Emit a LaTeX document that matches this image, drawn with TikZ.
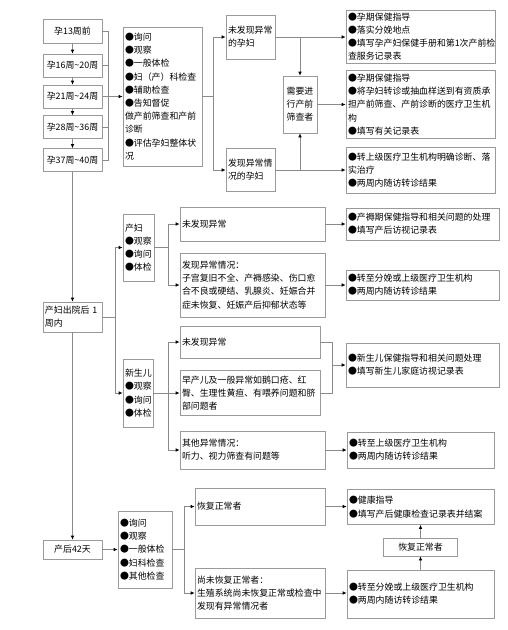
\documentclass[tikz,border=0pt]{standalone}
\usepackage{fontspec}
\setmainfont{Noto Sans CJK SC}
\usetikzlibrary{positioning,arrows.meta,shadows}
\definecolor{edge1}{HTML}{9A9A9A}
\definecolor{edge2}{HTML}{8A8A8A}
\begin{document}
\begin{tikzpicture}[x=1pt,y=-1pt,
  bx/.style={draw=edge1, fill=white, line width=0.7pt, inner xsep=2pt, inner ysep=1pt, align=left,
    font=\fontsize{8.9}{13.2}\selectfont,
    drop shadow={shadow xshift=0.9pt, shadow yshift=-0.9pt, fill=edge2!70, opacity=1}},
  cbx/.style={bx, align=center},
  ln/.style={draw=edge2, line width=0.7pt},
  arr/.style={ln, -{Latex[length=4pt,width=3.6pt,color=black]}}]
\useasboundingbox (0,0) rectangle (508,630);
\node[cbx, text width=55pt, minimum height=24pt] (w13) at (72.5,31) {孕13周前};
\node[cbx, text width=55pt, minimum height=23pt] (w16) at (72.5,65.5) {孕16周\textasciitilde20周};
\node[cbx, text width=55pt, minimum height=23pt] (w21) at (72.5,96.5) {孕21周\textasciitilde24周};
\node[cbx, text width=55pt, minimum height=23pt] (w28) at (72.5,127) {孕28周\textasciitilde36周};
\node[cbx, text width=55pt, minimum height=23pt] (w37) at (72.5,160) {孕37周\textasciitilde40周};
\node[bx, text width=75pt, minimum height=139pt] (mid1) at (162.5,96.5) {●询问\\●观察\\●一般体检\\●妇（产）科检查\\●辅助检查\\●告知督促\\做产前筛查和产前\\诊断\\●评估孕妇整体状\\况};
\node[bx, text width=45pt, minimum height=44pt] (nf1) at (250.5,37) {未发现异常\\的孕妇};
\node[bx, text width=45pt, minimum height=43pt] (ab1) at (250.5,170) {发现异常情\\况的孕妇};
\node[cbx, text width=30pt, minimum height=57pt] (sc) at (300,104.5) {需要进\\行产前\\筛查者};
\node[bx, text width=145pt, minimum height=53pt] (r1) at (420.5,36.5) {●孕期保健指导\\●落实分娩地点\\●填写孕产妇保健手册和第1次产前检\\查服务记录表};
\node[bx, text width=145pt, minimum height=68pt] (r2) at (420.5,104.5) {●孕期保健指导\\●将孕妇转诊或抽血样送到有资质承\\担产前筛查、产前诊断的医疗卫生机\\构\\●填写有关记录表};
\node[bx, text width=145pt, minimum height=46pt] (r3) at (420.5,170) {●转上级医疗卫生机构明确诊断、落\\实治疗\\●两周内随访转诊结果};
\node[bx, text width=55pt, minimum height=30pt] (pp1) at (72.5,317) {产妇出院后 1\\周内};
\node[bx, text width=27pt, minimum height=67pt] (mo) at (138.5,247.5) {产妇\\●观察\\●询问\\●体检};
\node[bx, text width=141pt, minimum height=34pt] (mn) at (252.5,224) {未发现异常};
\node[bx, text width=141pt, minimum height=64pt] (ma) at (252.5,285) {发现异常情况：\\子宫复旧不全、产褥感染、伤口愈\\合不良或硬结、乳腺炎、妊娠合并\\症未恢复、妊娠产后抑郁状态等};
\node[bx, text width=149pt, minimum height=32pt] (mr1) at (422.5,224) {●产褥期保健指导和相关问题的处理\\●填写产后访视记录表};
\node[bx, text width=149pt, minimum height=30pt] (mr2) at (422.5,285) {●转至分娩或上级医疗卫生机构\\●两周内随访转诊结果};
\node[bx, text width=26pt, minimum height=68pt] (nb) at (138,393) {新生儿\\●观察\\●询问\\●体检};
\node[bx, text width=136pt, minimum height=32pt] (nn) at (250,342) {未发现异常};
\node[bx, text width=136pt, minimum height=45pt] (np) at (250,393) {早产儿及一般异常如鹅口疮、红\\臀、生理性黄疸、有喂养问题和脐\\部问题者};
\node[bx, text width=141pt, minimum height=38pt] (no) at (252.5,450) {其他异常情况：\\听力、视力筛查有问题等};
\node[bx, text width=149pt, minimum height=44pt] (nr1) at (422.5,365) {●新生儿保健指导和相关问题处理\\●填写新生儿家庭访视记录表};
\node[bx, text width=143pt, minimum height=36pt] (nr2) at (420.5,450) {●转至上级医疗卫生机构\\●两周内随访转诊结果};
\node[cbx, text width=55pt, minimum height=19pt] (p42) at (72.5,549.5) {产后42天};
\node[bx, text width=50pt, minimum height=77pt] (pc) at (145,549.5) {●询问\\●观察\\●一般体检\\●妇科检查\\●其他检查};
\node[bx, text width=126pt, minimum height=37pt] (pok) at (260,506.5) {恢复正常者};
\node[bx, text width=126pt, minimum height=50pt] (pnot) at (260,593) {尚未恢复正常者：\\生殖系统尚未恢复正常或检查中\\发现有异常情况者};
\node[bx, text width=143pt, minimum height=35pt] (pr1) at (420.5,507) {●健康指导\\●填写产后健康检查记录表并结案};
\node[bx, text width=143pt, minimum height=48pt] (pr2) at (420.5,594) {●转至分娩或上级医疗卫生机构\\●两周内随访转诊结果};
\node[cbx, text width=70pt, minimum height=18pt] (pmid) at (420.5,547) {恢复正常者};
\coordinate (brk) at (108,0);
\coordinate (j1) at (213,0);
\coordinate (j2) at (115,0);
\coordinate (j3) at (168,0);
\coordinate (j4) at (332,0);
\coordinate (j5) at (184,0);
\foreach \a/\b in {w13/w16,w16/w21,w21/w28,w28/w37,w37/pp1,pp1/p42}
  \draw[arr] (\a.south) -- (\b.north);
\draw[ln] (w13.east) -| (w37.east -| brk) -- (w37.east);
\foreach \n in {w16,w21,w28}
  \draw[ln] (\n.east) -- (\n.east -| brk);
\draw[arr] (mid1.west -| brk) -- (mid1.west);
\draw[ln] (mid1.east) -- (mid1.east -| j1);
\draw[ln] (nf1.west -| j1) -- (ab1.west -| j1);
\draw[arr] (nf1.west -| j1) -- (nf1.west);
\draw[arr] (ab1.west -| j1) -- (ab1.west);
\draw[arr] (nf1.east) -- (r1.west |- nf1.east);
\draw[arr] (nf1.east -| sc.north) -- (sc.north);
\draw[arr] (ab1.east) -- (r3.west |- ab1.east);
\draw[arr] (ab1.east -| sc.south) -- (sc.south);
\draw[arr] (sc.east) -- (r2.west |- sc.east);
\draw[ln] (pp1.east) -- (pp1.east -| j2);
\draw[arr] (pp1.east -| j2) |- (mo.west);
\draw[arr] (pp1.east -| j2) |- (nb.west);
\draw[ln] (mo.east) -- (mo.east -| j3);
\draw[arr] (mo.east -| j3) |- (mn.west);
\draw[arr] (mo.east -| j3) |- (ma.west);
\draw[arr] (mn.east) -- (mr1.west |- mn.east);
\draw[arr] (ma.east) -- (mr2.west |- ma.east);
\draw[ln] (nb.east) -- (nb.east -| j3);
\draw[arr] (nb.east -| j3) |- (nn.west);
\draw[arr] (nb.east -| j3) |- (np.west);
\draw[arr] (nb.east -| j3) |- (no.west);
\draw[ln] (nn.east) -| (np.east -| j4) -- (np.east);
\draw[arr] (nr1.west -| j4) -- (nr1.west);
\draw[arr] (no.east) -- (nr2.west |- no.east);
\draw[arr] (p42.east) -- (pc.west);
\draw[ln] (pc.east) -- (pc.east -| j5);
\draw[arr] (pc.east -| j5) |- (pok.west);
\draw[arr] (pc.east -| j5) |- (pnot.west);
\draw[arr] (pok.east) -- (pr1.west |- pok.east);
\draw[arr] (pnot.east) -- (pr2.west |- pnot.east);
\draw[arr] (pr2.north) -- (pmid.south);
\draw[arr] (pmid.north) -- (pr1.south);
\end{tikzpicture}
\end{document}
